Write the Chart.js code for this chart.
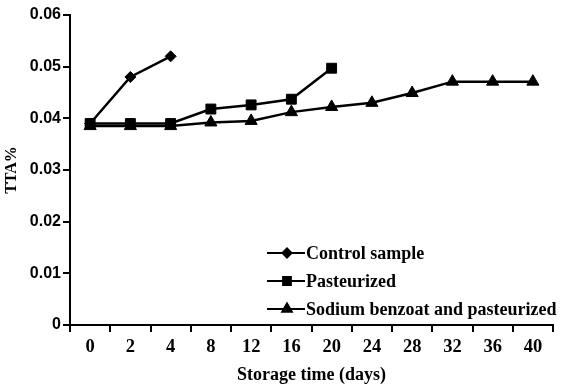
<!DOCTYPE html>
<html>
<head>
<meta charset="utf-8">
<script src="https://cdn.jsdelivr.net/npm/chart.js@4.4.1/dist/chart.umd.min.js"></script>
<style>
  html, body { margin: 0; padding: 0; background: #fff; }
  #wrap { width: 561px; height: 388px; position: relative; }
</style>
</head>
<body>
<div id="wrap"><canvas id="ttaChart"></canvas></div>
<script>
// storage time categories (days)
const days = ['0', '2', '4', '8', '12', '16', '20', '24', '28', '32', '36', '40'];

// TTA %
const controlSample = [0.039, 0.048, 0.052];
const pasteurized = [0.039, 0.039, 0.039, 0.0418, 0.0426, 0.0437, 0.0497];
const benzoatPasteurized = [0.0385, 0.0385, 0.0385, 0.0392, 0.0395, 0.0412, 0.0422, 0.0430, 0.0449, 0.0471, 0.0471, 0.0471];

const seriesNames = ['Control sample', 'Pasteurized', 'Sodium benzoat and pasteurized'];
const markerStyles = ['rectRot', 'rect', 'triangle'];

const SERIF = '"Liberation Serif", "Times New Roman", serif';
const SANS = '"Liberation Sans", Arial, sans-serif';
const ctx = document.getElementById('ttaChart').getContext('2d');

function makeDataset(label, values, style, radius) {
    return {
        label: label,
        data: values,
        borderColor: '#000',
        backgroundColor: '#000',
        borderWidth: 2.5,
        pointStyle: style,
        pointRadius: radius,
        pointHoverRadius: radius,
        pointBackgroundColor: '#000',
        pointBorderColor: '#000',
        pointBorderWidth: 1,
        tension: 0,
        fill: false
    };
}

// legend drawn inside the plot, line + marker like the original
const insideLegend = {
    id: 'insideLegend',
    afterDraw(chart) {
        const c = chart.ctx;
        const rows = [253, 281, 309];
        const sizes = [4.5, 5.5, 5.5];
        c.save();
        seriesNames.forEach((name, i) => {
            const y = rows[i];
            c.strokeStyle = '#000';
            c.fillStyle = '#000';
            c.lineWidth = 2;
            c.beginPath();
            c.moveTo(267, y);
            c.lineTo(305, y);
            c.stroke();
            Chart.helpers.drawPoint(c, { pointStyle: markerStyles[i], radius: sizes[i], rotation: 0, borderWidth: 1 }, 287, y);
            c.font = 'bold 18px ' + SERIF;
            c.textBaseline = 'middle';
            c.textAlign = 'left';
            c.fillText(name, 306, y + 1);
        });
        c.restore();
    }
};

new Chart(ctx, {
    type: 'line',
    data: {
        labels: days,
        datasets: [
            makeDataset(seriesNames[0], controlSample, markerStyles[0], 5.5),
            makeDataset(seriesNames[1], pasteurized, markerStyles[1], 7),
            makeDataset(seriesNames[2], benzoatPasteurized, markerStyles[2], 7)
        ]
    },
    options: {
        responsive: true,
        maintainAspectRatio: false,
        animation: false,
        layout: { padding: { left: 0, right: 3, top: 15, bottom: 0 } },
        scales: {
            x: {
                type: 'category',
                offset: true,
                grid: {
                    offset: true,
                    drawOnChartArea: false,
                    drawTicks: true,
                    tickLength: 7,
                    color: '#000',
                    lineWidth: 2
                },
                border: { display: true, color: '#000', width: 2 },
                ticks: {
                    color: '#000',
                    font: { family: SERIF, size: 18.5, weight: 'bold' },
                    maxRotation: 0,
                    autoSkip: false,
                    padding: 4
                },
                title: {
                    display: true,
                    text: 'Storage time (days)',
                    color: '#000',
                    font: { family: SERIF, size: 18, weight: 'bold' },
                    padding: { top: 0, bottom: 2 }
                },
                afterFit(scale) { scale.height = 63; }
            },
            y: {
                min: 0,
                max: 0.06,
                grid: {
                    drawOnChartArea: false,
                    drawTicks: true,
                    tickLength: 7,
                    color: '#000',
                    lineWidth: 2
                },
                border: { display: true, color: '#000', width: 2 },
                ticks: {
                    stepSize: 0.01,
                    color: '#000',
                    font: { family: SANS, size: 16, weight: 'bold' },
                    padding: 2,
                    callback: v => v === 0 ? '0' : v.toFixed(2)
                },
                title: {
                    display: true,
                    text: 'TTA%',
                    color: '#000',
                    font: { family: SERIF, size: 16, weight: 'bold' },
                    padding: { top: 2, bottom: 0 }
                },
                afterFit(scale) { scale.width = 70; }
            }
        },
        plugins: {
            legend: { display: false },
            tooltip: { enabled: false }
        }
    },
    plugins: [insideLegend]
});
</script>
</body>
</html>
